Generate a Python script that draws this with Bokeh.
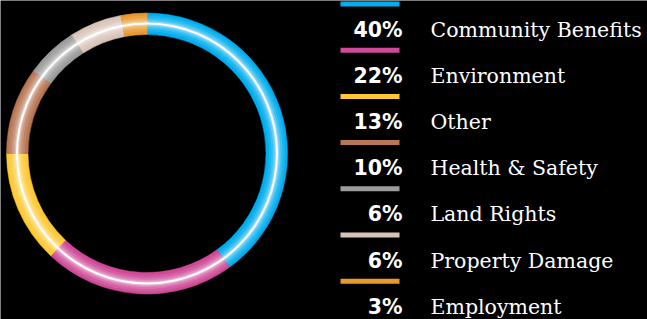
import numpy as np
from bokeh.plotting import figure
from bokeh.models import Range1d
from bokeh.embed import file_html
from bokeh.resources import INLINE
from bokeh.core.properties import value

# ---- data ----
categories = ["Community Benefits", "Environment", "Other", "Health & Safety",
              "Land Rights", "Property Damage", "Employment"]
shares = [40, 22, 13, 10, 6, 6, 3]
colors = ["#00AEEF", "#D04A98", "#FFC933", "#B97655", "#9C9C9C", "#D8C3B8", "#E8992B"]
pct_labels = [f"{v}%" for v in shares]

W, H = 647, 319
p = figure(width=W, height=H, output_backend="svg", toolbar_location=None,
           x_range=Range1d(0, W), y_range=Range1d(0, H), min_border=0)
p.background_fill_color = "black"
p.border_fill_color = "black"
p.outline_line_color = None
p.axis.visible = False
p.xgrid.visible = False
p.ygrid.visible = False

# ---- ring ----
cx, cy = 146.5, H - 153
frac = np.array(shares, dtype=float) / sum(shares)
cum = np.concatenate([[0], np.cumsum(frac)])
starts = np.pi / 2 - 2 * np.pi * cum[:-1]
ends = np.pi / 2 - 2 * np.pi * cum[1:]

p.annular_wedge(x=cx, y=cy, inner_radius=119, outer_radius=140.5,
                start_angle=starts, end_angle=ends, direction="clock",
                fill_color=colors, line_color=colors, line_width=0.5)
for r0, r1, a in [(122, 138, 0.10), (124.5, 135.5, 0.15), (126.5, 133.5, 0.2), (128, 132, 0.3)]:
    p.annular_wedge(x=cx, y=cy, inner_radius=r0, outer_radius=r1,
                    start_angle=starts, end_angle=ends, direction="clock",
                    fill_color="white", fill_alpha=a, line_color=None)
p.annulus(x=cx, y=cy, inner_radius=129, outer_radius=131,
          fill_color="white", line_color=None)

# ---- legend ----
n = len(categories)
rows = np.arange(n)
step = 46.2
bar_top = H - (1 + step * rows)
base = H - (29 + step * rows)
p.quad(left=340, right=399, top=bar_top, bottom=bar_top - 5,
       fill_color=colors, line_color=None)
p.text(x=402, y=base, text=pct_labels, text_align="right", text_baseline="alphabetic",
       text_font=value("DejaVu Sans"), text_font_style="bold", text_font_size="20.5px",
       text_color="white")
p.text(x=430, y=base, text=categories, text_align="left", text_baseline="alphabetic",
       text_font=value("DejaVu Serif"), text_font_size="20.5px", text_color="white")

open("out.html", "w").write(file_html(p, INLINE))
